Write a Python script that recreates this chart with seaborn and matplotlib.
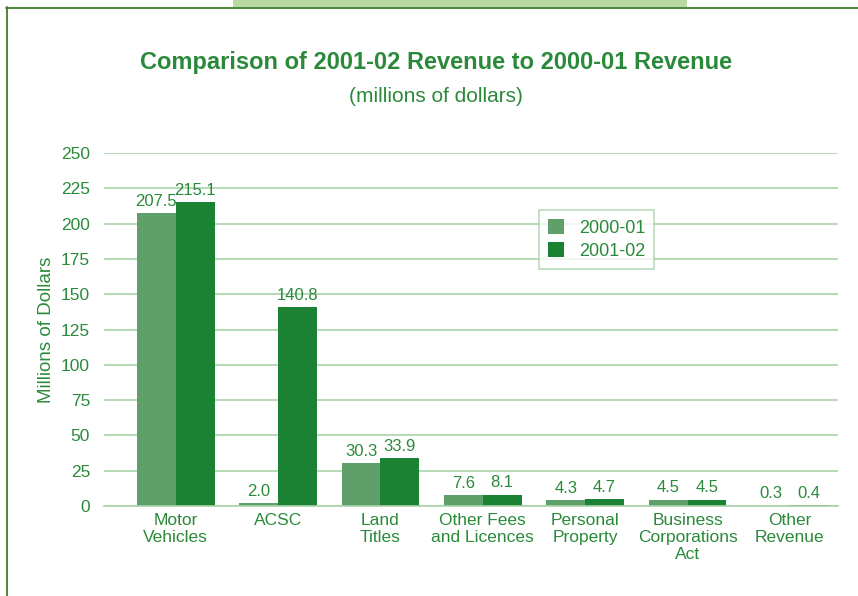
import matplotlib
matplotlib.use("Agg")
import matplotlib.pyplot as plt
from matplotlib.patches import Rectangle
from matplotlib.lines import Line2D
import seaborn as sns
import pandas as pd

categories = ["Motor\nVehicles", "ACSC", "Land\nTitles", "Other Fees\nand Licences",
              "Personal\nProperty", "Business\nCorporations\nAct", "Other\nRevenue"]
rev_2000_01 = [207.5, 2.0, 30.3, 7.6, 4.3, 4.5, 0.3]
rev_2001_02 = [215.1, 140.8, 33.9, 8.1, 4.7, 4.5, 0.4]
series = ["2000-01", "2001-02"]
y_ticks = [0, 25, 50, 75, 100, 125, 150, 175, 200, 225, 250]

df = pd.DataFrame({
    "category": categories * 2,
    "year": [series[0]] * len(categories) + [series[1]] * len(categories),
    "value": rev_2000_01 + rev_2001_02,
})

sns.set_theme(style="white")
plt.rcParams["font.family"] = ["Liberation Sans", "DejaVu Sans"]

TEXT = "#2a8a3a"
GRID = "#a9d3a9"
LIGHT = "#5f9f69"
DARK = "#1b8234"

fig = plt.figure(figsize=(8.58, 5.96), dpi=100)
ax = fig.add_axes([104 / 858, 1 - 506 / 596, 734 / 858, 353 / 596])

sns.barplot(data=df, x="category", y="value", hue="year", order=categories,
            hue_order=series, palette=[LIGHT, DARK], width=0.76, gap=0,
            saturation=1, edgecolor="none", ax=ax)

ax.set_xlim(-0.70, 6.47)
ax.set_ylim(0, 250)
ax.set_yticks(y_ticks)
ax.set_yticklabels([str(t) for t in y_ticks])
ax.yaxis.grid(True, color=GRID, linewidth=1.2)
ax.set_axisbelow(True)
for s in ["top", "right", "left"]:
    ax.spines[s].set_visible(False)
ax.spines["bottom"].set_color(GRID)
ax.spines["bottom"].set_linewidth(1.2)
ax.tick_params(axis="both", length=0, labelcolor=TEXT, labelsize=12.5)
ax.tick_params(axis="y", pad=10)
ax.tick_params(axis="x", pad=5)
for lbl in ax.get_xticklabels():
    lbl.set_linespacing(1.15)
    lbl.set_verticalalignment("top")
ax.set_xlabel("")
ax.set_ylabel("Millions of Dollars", color=TEXT, fontsize=13.5, labelpad=4)

for cont in ax.containers:
    ax.bar_label(cont, fmt="%.1f", padding=3, color=TEXT, fontsize=12)

leg = ax.legend(loc="upper left", bbox_to_anchor=(0.5926, 0.8385), frameon=True,
                borderaxespad=0, fontsize=13, labelcolor=TEXT, handlelength=0.9,
                handleheight=0.9, handletextpad=0.8, borderpad=0.5,
                labelspacing=0.3, fancybox=False)
leg.get_frame().set_edgecolor(GRID)
leg.get_frame().set_linewidth(1.2)

fig.text(436 / 858, 1 - 63 / 596, "Comparison of 2001-02 Revenue to 2000-01 Revenue",
         ha="center", va="center", fontsize=17, fontweight="bold", color=TEXT)
fig.text(436 / 858, 1 - 96 / 596, "(millions of dollars)", ha="center", va="center",
         fontsize=15, color=TEXT)

# page frame and header band
fig.add_artist(Rectangle((233 / 858, 1 - 7 / 596), 454 / 858, 7 / 596,
                         transform=fig.transFigure, color="#b9d9a2", lw=0))
fig.add_artist(Line2D([6 / 858, 1], [1 - 7.5 / 596] * 2, transform=fig.transFigure,
                      color="#3c7f2c", lw=1.3))
fig.add_artist(Line2D([6.5 / 858] * 2, [0, 1 - 7 / 596], transform=fig.transFigure,
                      color="#3c7f2c", lw=1.3))

fig.savefig("out.png", dpi=100)
